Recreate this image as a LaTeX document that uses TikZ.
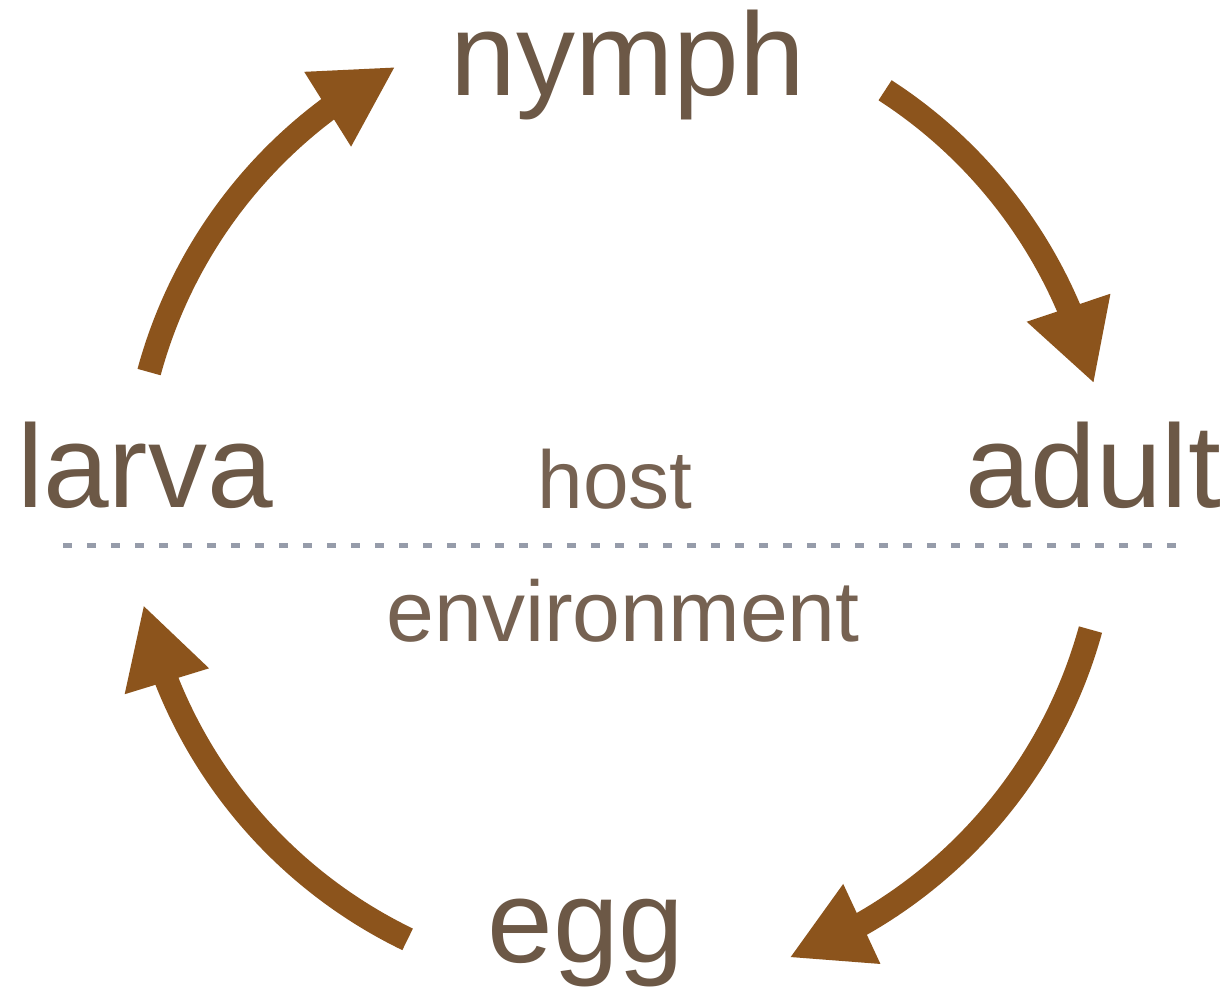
\documentclass[tikz,border=0pt]{standalone}
\usepackage{fontspec}
\setmainfont{Liberation Sans}
\usetikzlibrary{arrows.meta,bending}
\definecolor{arrowbrown}{RGB}{140,84,28}
\definecolor{labelbrown}{RGB}{108,88,70}
\definecolor{sublabel}{RGB}{118,98,82}
\definecolor{dotgray}{RGB}{150,156,170}
\begin{document}
\begin{tikzpicture}[x=1pt,y=-1pt,
  stage/.style={anchor=base,inner sep=0pt,text=labelbrown,font=\fontsize{118}{120}\selectfont},
  zone/.style={anchor=base,inner sep=0pt,text=sublabel},
  cyc/.style={draw=arrowbrown,line width=24pt,line cap=butt,
    -{Triangle[length=80pt,width=82pt,flex]}},
  divider/.style={draw=dotgray,line width=5pt,dash pattern=on 9pt off 15pt}]
\fill[white] (0,0) rectangle (1230,994);
\useasboundingbox (0,0) rectangle (1230,994);
\coordinate (C) at (620,500);
% labels
\node[stage] (nymph) at (628,95) {nymph};
\node[stage] (larva) at (145,507) {larva};
\node[stage] (adult) at (1093,507) {adult};
\node[stage] (egg) at (586,962) {egg};
\node[zone,font=\fontsize{82}{84}\selectfont] (host) at (615,508) {host};
\node[zone,font=\fontsize{86}{88}\selectfont] (env) at (623,641) {environment};
% divider
\coordinate (dl) at (63,545);
\coordinate (dr) at (1187,545);
\draw[divider] (dl) -- (dr);
% arrow ends on the circle
\coordinate (s1) at ([shift={(C)}]195.2:488);
\coordinate (s2) at ([shift={(C)}]302.9:488);
\coordinate (s3) at ([shift={(C)}]15.4:488);
\coordinate (s4) at ([shift={(C)}]115.8:488);
\draw[cyc] (s1) arc[start angle=195.2,end angle=242.6,radius=488];
\draw[cyc] (s2) arc[start angle=302.9,end angle=346.2,radius=488];
\draw[cyc] (s3) arc[start angle=15.4,end angle=69.7,radius=488];
\draw[cyc] (s4) arc[start angle=115.8,end angle=167.6,radius=488];
\end{tikzpicture}
\end{document}
